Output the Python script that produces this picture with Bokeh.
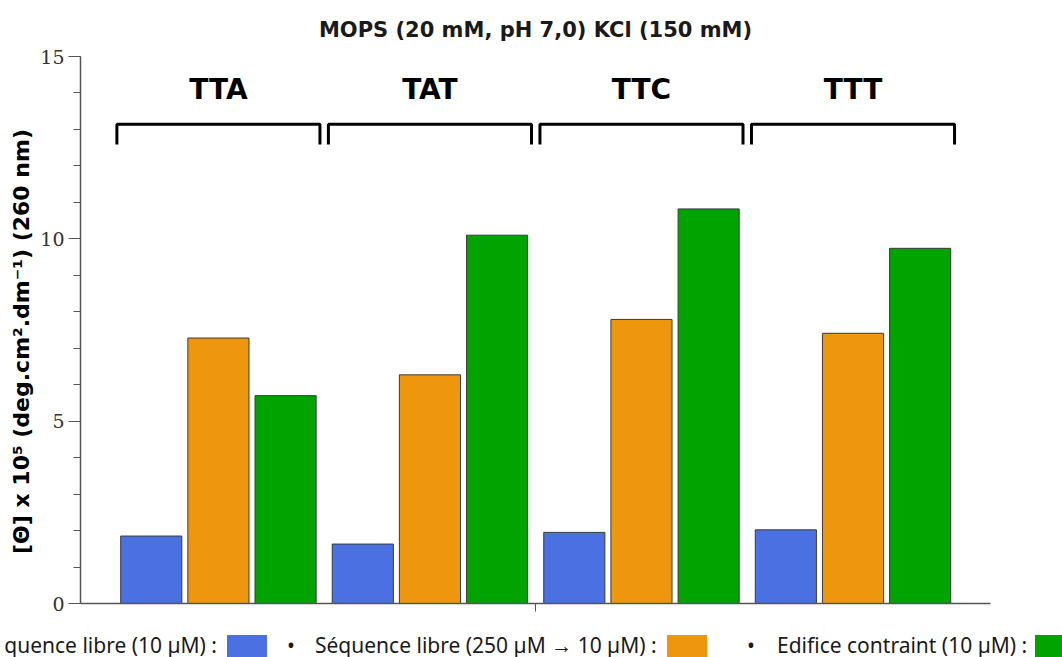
from bokeh.plotting import figure
from bokeh.models import FixedTicker, Range1d, ColumnDataSource, Div
from bokeh.layouts import column
from bokeh.embed import file_html
from bokeh.resources import INLINE
from bokeh.core.properties import value

# ---------------- data ----------------
groups = ["TTA", "TAT", "TTC", "TTT"]
series_names = ["Séquence libre (10 µM)", "Séquence libre (250 µM → 10 µM)", "Edifice contraint (10 µM)"]
free_10 = [1.85, 1.63, 1.95, 2.02]
free_250_10 = [7.28, 6.27, 7.79, 7.41]
constrained_10 = [5.70, 10.10, 10.82, 9.74]
y_ticks = [0, 5, 10, 15]
y_minor_ticks = list(range(0, 16))
title_text = "MOPS (20 mM, pH 7,0) KCl (150 mM)"
y_label = "[Θ] x 10⁵ (deg.cm².dm⁻¹) (260 nm)"

# ---------------- style ----------------
colors = ["#4a70e2", "#ef960f", "#00a300"]
bar_offset = 0.3175
bar_width = 0.289
bracket_half = 0.48
bracket_top = 13.14
bracket_drop = 0.55
label_y = 14.1

W = 1062
H_MAIN = 615
H_LEG = 42

p = figure(width=W, height=H_MAIN, output_backend="svg", toolbar_location=None,
           x_range=Range1d(-0.652, 3.65), y_range=Range1d(0, 15),
           min_border_left=80, min_border_right=72, min_border_top=55,
           min_border_bottom=12)
p.outline_line_color = None
p.grid.visible = False

p.title.text = title_text
p.title.align = "center"
p.title.text_font = "DejaVu Sans"
p.title.text_font_style = "bold"
p.title.text_font_size = "21px"
p.title.text_color = "#1a1a1a"
p.title.standoff = 30

# bars
gx = list(range(len(groups)))
for k, (vals, col) in enumerate(zip([free_10, free_250_10, constrained_10], colors)):
    xs = [g + (k - 1) * bar_offset for g in gx]
    src = ColumnDataSource(dict(x=xs, top=vals))
    p.vbar(x="x", top="top", bottom=0, width=bar_width, source=src,
           fill_color=col, line_color="#3a3a3a", line_width=1)

# brackets
bxs = [[g - bracket_half, g - bracket_half, g + bracket_half, g + bracket_half] for g in gx]
bys = [[bracket_top - bracket_drop, bracket_top, bracket_top, bracket_top - bracket_drop] for g in gx]
p.multi_line(xs=bxs, ys=bys, line_color="black", line_width=3)
p.text(x=gx, y=[label_y] * len(gx), text=groups, text_align="center",
       text_baseline="middle", text_font=value("DejaVu Sans"),
       text_font_style="bold", text_font_size="28px", text_color="black")

# axes
ya = p.yaxis[0]
ya.ticker = FixedTicker(ticks=y_ticks, minor_ticks=y_minor_ticks)
ya.axis_line_color = "#555555"
ya.axis_line_width = 1.5
ya.major_tick_line_color = "#555555"
ya.minor_tick_line_color = "#555555"
ya.major_tick_out = 12
ya.major_tick_in = 0
ya.minor_tick_out = 7
ya.minor_tick_in = 0
ya.major_label_text_font = "DejaVu Serif"
ya.major_label_text_font_size = "19px"
ya.major_label_text_color = "#333333"
ya.major_label_standoff = 4
ya.axis_label = y_label + "\u00a0\u00a0\u00a0"
ya.axis_label_text_font = "DejaVu Sans"
ya.axis_label_text_font_style = "bold"
ya.axis_label_text_font_size = "22px"
ya.axis_label_text_color = "black"
ya.axis_label_standoff = 3

xa = p.xaxis[0]
xa.ticker = FixedTicker(ticks=[1.5], minor_ticks=[])
xa.axis_line_color = "#555555"
xa.axis_line_width = 1.5
xa.major_tick_line_color = "#555555"
xa.major_tick_out = 8
xa.major_tick_in = 0
xa.major_label_overrides = {1.5: ""}

# ---------------- legend row (text followed by a colored square) ----------------
leg_text_right = [212, None, None]
leg_text_left = [None, 310, 772]
leg_bullet_x = [-60, 282, 742]
square_left = [222, 662, 1030]
square_w = 40
square_top = 15
text_top = 11

parts = []
for i in range(3):
    parts.append(f'<span style="position:absolute;left:{leg_bullet_x[i]}px;top:{text_top}px;">•</span>')
    if leg_text_right[i] is not None:
        pos = f"right:{W - leg_text_right[i]}px;"
    else:
        pos = f"left:{leg_text_left[i]}px;"
    parts.append(f'<span style="position:absolute;{pos}top:{text_top}px;white-space:nowrap;">'
                 f'{series_names[i]} :</span>')
    parts.append(f'<span style="position:absolute;left:{square_left[i]}px;top:{square_top}px;'
                 f'width:{square_w}px;height:30px;background:{colors[i]};"></span>')

html = (f'<div style="position:relative;width:{W}px;height:{H_LEG}px;overflow:hidden;'
        f"font-family:'Noto Sans';font-size:21px;line-height:28px;color:#1a1a1a;\">"
        + "".join(parts) + "</div>")
leg = Div(text=html, width=W, height=H_LEG, styles={"overflow": "hidden"})

layout = column(p, leg, spacing=0)
open("out.html", "w").write(file_html(layout, INLINE))
